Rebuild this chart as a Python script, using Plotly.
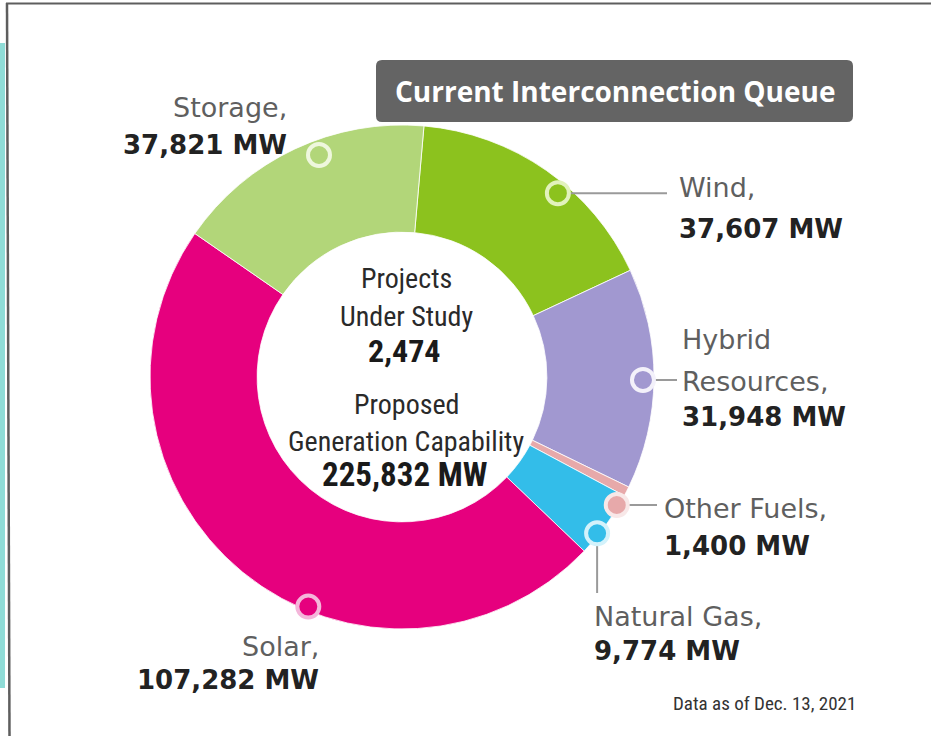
import math
import plotly.graph_objects as go

# ---- data ----
categories = ["Wind", "Hybrid Resources", "Other Fuels", "Natural Gas", "Solar", "Storage"]
values_mw = [37607, 31948, 1400, 9774, 107282, 37821]
label_names = ["Wind,", "Hybrid", "Other Fuels,", "Natural Gas,", "Solar,", "Storage,"]
projects_under_study = 2474
total_mw = sum(values_mw)

# ---- styles / layout ----
W, H = 931, 736
colors = ["#8cc21e", "#a198d0", "#e7a9aa", "#33bde9", "#e6007e", "#b2d679"]
ring_colors = ["#e2f2bc", "#f3f1fa", "#f8e8e8", "#d3f2fb", "#f4b6da", "#eef7dd"]
cx, cy, R = 402, 377, 252
hole = 0.575
rotation = 5

# callout marker polar positions (deg clockwise from top, px radius)
mark_ang = [40.3, 90.7, 120.8, 128.7, 202.2, 339.5]
mark_rad = [241, 241, 250, 250, 248, 237]

LABEL_FONT = "DejaVu Sans"
COND_FONT = "Liberation Sans Narrow, Roboto Condensed, Arial Narrow, Roboto"

fig = go.Figure()

fig.add_trace(go.Pie(
    labels=categories, values=values_mw, hole=hole, sort=False,
    direction="clockwise", rotation=rotation,
    marker=dict(colors=colors, line=dict(color="white", width=0.8)),
    textinfo="none", hoverinfo="label+value", showlegend=False,
    domain=dict(x=[(cx - R) / W, (cx + R) / W],
                y=[1 - (cy + R) / H, 1 - (cy - R) / H]),
))

mx = [cx + r * math.sin(math.radians(a)) for a, r in zip(mark_ang, mark_rad)]
my = [cy - r * math.cos(math.radians(a)) for a, r in zip(mark_ang, mark_rad)]

shapes = [
    dict(type="rect", xref="x", yref="y", x0=0, x1=5, y0=43, y1=688,
         fillcolor="#8fdcd7", line=dict(width=0), layer="below"),
    dict(type="line", xref="x", yref="y", x0=6, x1=W, y0=3.5, y1=3.5,
         line=dict(color="#5e5e5e", width=2)),
    dict(type="line", xref="x", yref="y", x0=7, x1=9.5, y0=3, y1=H,
         line=dict(color="#5e5e5e", width=2.5)),
]


def rrect(x0, y0, x1, y1, r):
    return (f"M{x0 + r},{y0} L{x1 - r},{y0} Q{x1},{y0} {x1},{y0 + r} L{x1},{y1 - r} "
            f"Q{x1},{y1} {x1 - r},{y1} L{x0 + r},{y1} Q{x0},{y1} {x0},{y1 - r} "
            f"L{x0},{y0 + r} Q{x0},{y0} {x0 + r},{y0} Z")


shapes.append(dict(type="path", xref="x", yref="y", path=rrect(376, 60, 853, 122, 6),
                   fillcolor="#646464", line=dict(width=0), layer="below"))

# leader lines (from markers to labels)
line_col = "#9a9a9a"
leader_ends = {0: (667, None), 1: (677, None), 2: (657, None), 3: (None, 593)}
for i, (ex, ey) in leader_ends.items():
    x1 = ex if ex is not None else mx[i]
    y1 = ey if ey is not None else my[i]
    shapes.append(dict(type="line", xref="x", yref="y", x0=mx[i], y0=my[i], x1=x1, y1=y1,
                       line=dict(color=line_col, width=2), layer="above"))

# callout markers
mr = 11
for i in range(len(categories)):
    shapes.append(dict(type="circle", xref="x", yref="y",
                       x0=mx[i] - mr, x1=mx[i] + mr, y0=my[i] - mr, y1=my[i] + mr,
                       fillcolor=colors[i], line=dict(color=ring_colors[i], width=4),
                       layer="above"))

ann = []


def txt(x, y, s, size, color, family, xanchor="left", weight="normal"):
    ann.append(dict(x=x, y=y, xref="x", yref="y", text=s, showarrow=False,
                    xanchor=xanchor, yanchor="middle",
                    align=xanchor if xanchor != "center" else "center",
                    font=dict(size=size, color=color, family=family, weight=weight)))


gray = "#5f5f5f"
dark = "#222222"
# label positions: (x, y_name, y_value, anchor)
lab_pos = {
    "Wind": (677, 187, 229, "left"),
    "Hybrid Resources": (680, 339, 417, "left"),
    "Other Fuels": (662, 508, 546, "left"),
    "Natural Gas": (592, 616, 651, "left"),
    "Solar": (321, 646, 680, "right"),
    "Storage": (289, 107, 145, "right"),
}
for cat, nm, v in zip(categories, label_names, values_mw):
    x, yn, yv, anc = lab_pos[cat]
    txt(x, yn, nm, 27, gray, LABEL_FONT, anc)
    txt(x, yv, f"{v:,} MW", 26, dark, LABEL_FONT, anc, "bold")
# second line of the hybrid label
txt(680, 381, "Resources,", 27, gray, LABEL_FONT, "left")

# center text
ccol = "#2a2a2a"
txt(406, 278, "Projects", 28, ccol, COND_FONT, "center")
txt(406, 316, "Under Study", 28, ccol, COND_FONT, "center")
txt(404, 351, f"{projects_under_study:,}", 32, "#1a1a1a", COND_FONT, "center", "bold")
txt(406, 404, "Proposed", 28, ccol, COND_FONT, "center")
txt(406, 441, "Generation Capability", 28, ccol, COND_FONT, "center")
txt(405, 474, f"{total_mw:,} MW", 33, "#1a1a1a", COND_FONT, "center", "bold")

# title
txt(615, 91, "Current Interconnection Queue", 28, "white", "Open Sans, Roboto", "center", "bold")
# data note
txt(764, 703, "Data as of Dec. 13, 2021", 19, "#333333", COND_FONT, "center")

fig.update_layout(
    width=W, height=H, margin=dict(l=0, r=0, t=0, b=0),
    paper_bgcolor="white", plot_bgcolor="rgba(0,0,0,0)",
    xaxis=dict(range=[0, W], visible=False, fixedrange=True),
    yaxis=dict(range=[H, 0], visible=False, fixedrange=True),
    annotations=ann, shapes=shapes, showlegend=False,
)

fig.write_html("out.html", config={"displayModeBar": False},
               post_script="document.body.style.margin='0px';")
